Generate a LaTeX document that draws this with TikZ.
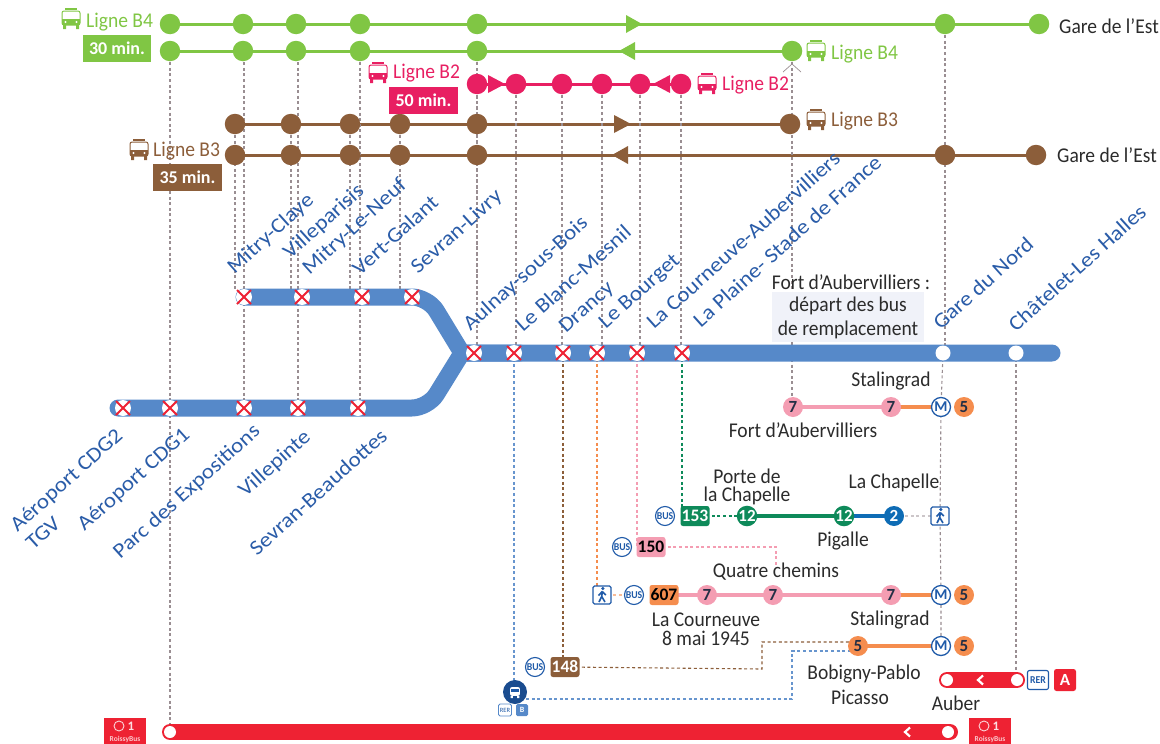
\documentclass[tikz,border=0pt]{standalone}
\usepackage{fontspec}
\setmainfont{Carlito}
\newfontfamily\narrowf[FakeStretch=0.93]{Carlito}
\newfontfamily\widef[FakeStretch=1.1]{Carlito}
\usetikzlibrary{backgrounds,calc,shapes.misc}
\definecolor{cgreen}{HTML}{80C644}
\definecolor{cpink}{HTML}{E81F62}
\definecolor{cbrown}{HTML}{8C5E3A}
\definecolor{cblue}{HTML}{5689C9}
\definecolor{clabel}{HTML}{2A5CA8}
\definecolor{cred}{HTML}{EE2233}
\definecolor{cdot}{HTML}{9A8E92}
\definecolor{cmpink}{HTML}{F49DB2}
\definecolor{cmorange}{HTML}{F58D4E}
\definecolor{cmgreen}{HTML}{0E8A5A}
\definecolor{cmblue}{HTML}{0E6CB5}
\definecolor{cdark}{HTML}{232F45}
\definecolor{cicon}{HTML}{1F5AA8}
\definecolor{cbox}{HTML}{F0F2F9}
\definecolor{ctext}{HTML}{2B2B2B}
\pgfdeclarelayer{under}\pgfdeclarelayer{mid}
\pgfsetlayers{under,mid,main}
\tikzset{
 stn/.style={circle,inner sep=0pt,minimum size=20.5pt,fill=#1},
 lin/.style={line width=3pt,draw=#1},
 dotl/.style={draw=#1,line width=1.1pt,dash pattern=on 3pt off 2.6pt},
 dotl/.default=cdot,
 bluel/.style={draw=cblue,line width=17pt,line cap=round,line join=round,rounded corners=16pt},
 xst/.style={circle,fill=white,inner sep=0pt,minimum size=16pt},
 wst/.style={circle,fill=white,inner sep=0pt,minimum size=15pt},
 lab/.style={text=clabel,rotate=42,font=\widef\fontsize{21}{22}\selectfont,inner sep=0pt},
 dlab/.style={text=ctext,font=\narrowf\fontsize{21}{22}\selectfont,inner sep=0pt,align=center},
 llab/.style={text=#1,font=\narrowf\fontsize{21}{22}\selectfont,inner sep=0pt,anchor=west},
 minb/.style={fill=#1,text=white,font=\bfseries\fontsize{18}{18}\selectfont,inner sep=0pt,minimum height=27pt},
 met/.style={circle,inner sep=0pt,minimum size=20pt,fill=cmpink,text=cdark,font=\bfseries\fontsize{17}{17}\selectfont},
 mett/.style={met,fill=#1,text=white},
 numb/.style={rounded corners=2.5pt,inner sep=0pt,minimum width=29pt,minimum height=20pt,fill=#1,font=\bfseries\fontsize{17.5}{17}\selectfont},
 busn/.style={circle,draw=cicon,line width=1.1pt,fill=white,inner sep=0pt,minimum size=19pt,text=cicon,font=\bfseries\narrowf\fontsize{10.5}{10}\selectfont},
 mn/.style={circle,draw=cicon,line width=1.3pt,fill=white,inner sep=0pt,minimum size=19pt,text=cicon,font=\bfseries\fontsize{15}{15}\selectfont},
 walkn/.style={rounded corners=1.5pt,draw=cicon,line width=1.1pt,fill=white,minimum size=18pt,inner sep=0pt},
 logon/.style={fill=cred,minimum width=42pt,minimum height=26pt,inner sep=0pt},
}
\newcommand{\xmark}[1]{\draw[cred,line width=1.8pt] ($(#1)+(-7,-7)$)--($(#1)+(7,7)$) ($(#1)+(-7,7)$)--($(#1)+(7,-7)$);}
\newcommand{\busicon}[3]{\begin{scope}[shift={(#2,#3)}]
 \draw[#1,line width=1pt,rounded corners=2pt] (-9,-8)--(-9,6)--(9,6)--(9,-8)--cycle;
 \draw[#1,line width=1.1pt] (-6,-10)--(6,-10);
 \fill[#1] (-9,0) rectangle (9,6);
 \fill[white] (-5.5,3) circle (1.2) (5.5,3) circle (1.2);
 \fill[#1] (-8,6) rectangle (-5,10) (5,6) rectangle (8,10);
\end{scope}}
\newcommand{\chev}[2]{\draw[white,line width=2.2pt] (#1+3,#2-4.5)--(#1-2,#2)--(#1+3,#2+4.5);}
\newcommand{\walk}[2]{\begin{scope}[shift={(#1,#2)}]
 \fill[cicon] (0.8,-6.5) circle (1.8);
 \draw[cicon,line width=1.6pt] (0.3,-3.5)--(-0.3,1.5)--(-3,7) (-0.3,1.5)--(3,7) (0.3,-3.5)--(-3.5,0.5) (0.3,-3.5)--(3.8,0);
\end{scope}}
\newcommand{\logo}[2]{\node[logon] at (#1,#2) {};
 \draw[white,line width=.9pt,opacity=.8] (#1-6,#2-5) circle (5);
 \node[text=white,opacity=.85,font=\bfseries\fontsize{13}{13}\selectfont,inner sep=0pt] at (#1+6,#2-5) {1};
 \node[text=white,opacity=.75,font=\bfseries\fontsize{7.5}{8}\selectfont,inner sep=0pt] at (#1,#2+8) {RoissyBus};}
\begin{document}
\begin{tikzpicture}[x=1pt,y=-1pt]
\useasboundingbox (0,0) rectangle (1160,744);
% B4 stations
\foreach \n/\x in {1/170,2/243,3/296,4/360,5/477,6/945,7/1039} \node[stn=cgreen] (ga\n) at (\x,24) {};
\foreach \n/\x in {1/170,2/243,3/296,4/360,5/477,6/792} \node[stn=cgreen] (gb\n) at (\x,51) {};
% B2
\foreach \n/\x in {1/477,2/516,3/562,4/602,5/640,6/681} \node[stn=cpink] (p\n) at (\x,84) {};
% B3
\foreach \n/\x in {1/235,2/291,3/350,4/400,5/477,6/790} \node[stn=cbrown] (ba\n) at (\x,124) {};
\foreach \n/\x in {1/235,2/291,3/350,4/400,5/477,6/945,7/1036} \node[stn=cbrown] (bb\n) at (\x,155) {};
% RER stations
\foreach \n/\x in {1/123,2/170,3/244,4/298,5/358} {\node[xst] (xb\n) at (\x,408) {};\xmark{xb\n}}
\foreach \n/\x in {2/302,3/362,4/412} {\node[xst] (xt\n) at (\x,297) {};\xmark{xt\n}}
\node[xst] (xt1) at (244,297) {}; \xmark{xt1}
\foreach \n/\x in {1/474,2/514,3/563,4/597,5/637,6/682} {\node[xst] (xm\n) at (\x,353) {};\xmark{xm\n}}
\node[wst] (gdn) at (943,353) {};
\node[wst] (chl) at (1016,353) {};
\coordinate (bs) at (118,408);
\coordinate (bse) at (1052,353);
\coordinate (bj) at (462,353);
\begin{pgfonlayer}{mid}
 \draw[bluel] (xt1.center)--(428,297)[sharp corners]--(bj)--(bse);
 \draw[bluel] (bs)--(428,408)[sharp corners]--(bj)--(520,353);
\end{pgfonlayer}
% Box for replacement text
\node[fill=cbox,minimum width=152pt,minimum height=50pt,inner sep=0pt] (fbox) at (848,317) {};
\node[dlab] (ft1) at (851,282) {Fort d’Aubervilliers :};
\node[dlab] (ft2) at (848,306) {départ des bus};
\node[dlab] (ft3) at (848,330) {de remplacement};
% Metro rows
\node[met] (r1a) at (793,407) {7};
\node[met] (r1b) at (891,407) {7};
\node[mn] (r1m) at (941,407) {M};
\node[met,fill=cmorange] (r1c) at (964,407) {5};
\node[busn] (r2bus) at (665,516) {BUS};
\node[numb=cmgreen,text=white] (r2n) at (695,516) {153};
\node[mett=cmgreen] (r2a) at (747,516) {12};
\node[mett=cmgreen] (r2b) at (844,516) {12};
\node[mett=cmblue] (r2c) at (894,516) {2};
\node[walkn] (r2w) at (940,516) {}; \walk{940}{516}
\node[busn] (r3bus) at (622,547) {BUS};
\node[numb=cmpink,text=black] (r3n) at (651,547) {150};
\coordinate (r3e) at (776,566);
\node[walkn] (r4w) at (602,595) {}; \walk{602}{595}
\node[busn] (r4bus) at (634,595) {BUS};
\node[numb=cmorange,text=black] (r4n) at (664,595) {607};
\node[met] (r4a) at (707,595) {7};
\node[met] (r4b) at (773,595) {7};
\node[met] (r4c) at (891,595) {7};
\node[mn] (r4m) at (941,595) {M};
\node[met,fill=cmorange] (r4d) at (964,595) {5};
\node[met,fill=cmorange] (r5a) at (858,646) {5};
\node[mn] (r5m) at (941,646) {M};
\node[met,fill=cmorange] (r5b) at (964,646) {5};
\node[busn] (r6bus) at (535,667) {BUS};
\node[numb=cbrown,text=white] (r6n) at (565,667) {148};
\coordinate (r5br) at (858,642);
\coordinate (r5bl) at (858,651);
% RER B
\node[circle,fill=cicon!85!black,minimum size=24pt,inner sep=0pt] (rb) at (515,692) {};
\begin{scope}[shift={(515,692)},scale=.55]\fill[white,rounded corners=2pt] (-9,-9) rectangle (9,7);\fill[cicon] (-6.5,-5.5) rectangle (6.5,0);\fill[white] (-8,7) rectangle (-4,11) (4,7) rectangle (8,11);\end{scope}
\node[draw=cblue,fill=white,rounded corners=1.5pt,line width=.8pt,minimum width=13pt,minimum height=12pt,inner sep=0pt,text=cicon,font=\fontsize{6.5}{7}\selectfont] (rbr) at (505,710) {RER};
\node[fill=cblue,rounded corners=1.5pt,minimum width=12pt,minimum height=12pt,inner sep=0pt,text=white,font=\bfseries\fontsize{8}{8}\selectfont] (rbb) at (522,710) {B};
% RER A
\coordinate (ras) at (947,680);
\coordinate (rae) at (1017,680);
\draw[cred,line width=16pt,line cap=round] (ras)--(rae);
\node[circle,fill=white,inner sep=0pt,minimum size=12pt] (ra1) at (947,680) {};
\node[circle,fill=white,inner sep=0pt,minimum size=12pt] (ra2) at (1017,680) {};
\chev{980}{680}
\node[draw=cicon,fill=white,rounded corners=2pt,line width=1.1pt,minimum width=21pt,minimum height=19pt,inner sep=0pt,text=cicon,font=\bfseries\narrowf\fontsize{10.5}{10}\selectfont] (rar) at (1038,680) {RER};
\node[fill=cred,rounded corners=2.5pt,minimum width=22pt,minimum height=22pt,inner sep=0pt,text=white,font=\bfseries\fontsize{17}{17}\selectfont] (raa) at (1065,680) {A};
% Bottom line
\coordinate (bbs) at (170,732);
\coordinate (bbe) at (950,732);
\draw[cred,line width=16pt,line cap=round] (bbs)--(bbe);
\node[circle,fill=white,inner sep=0pt,minimum size=12pt] (bb1s) at (170,732) {};
\node[circle,fill=white,inner sep=0pt,minimum size=12pt] (bb2s) at (948,732) {};
\chev{907}{732}
\logo{125}{731}\logo{990}{731}
% connectors, under everything
\begin{pgfonlayer}{under}
 \draw[lin=cgreen] (ga1.center)--(ga7.center);
 \draw[lin=cgreen] (gb1.center)--(gb6.center);
 \draw[lin=cpink] (p1.center)--(p6.center);
 \draw[lin=cbrown] (ba1.center)--(ba6.center);
 \draw[lin=cbrown] (bb1.center)--(bb7.center);
 \foreach \a/\b in {gb4/xb5,p1/xm1,p2/xm2,p3/xm3,p4/xm4,p5/xm5,p6/xm6}
   \draw[dotl] (\a.center)--(\a.center |- \b.center);
 \draw[dotl] (gb1.center)--(bb1s.center);
 \draw[dotl] (xb3.center |- gb2.center)--(xb3.center);
 \draw[dotl] (xb4.center |- gb3.center)--(xb4.center);
 \foreach \n in {1,2,3,4} \draw[dotl] (ba\n.center)--(bb\n.center)--++(0,134);
 \draw[dotl] (ba5.center)--(bb5.center)--++(0,145);
 \draw[dotl] (gb5.center)--(ba5.center);
 \draw[dotl] (gb6.center)--(gb6.center |- r1a.center);
 \draw[dotl] (ga6.center)--(bb6.center)--++(0,190);
 \draw[dotl] (gdn.center)--(r1m.center)--(r2w.center)--(r4m.center)--(r5m.center);
 \draw[dotl] (chl.center)--(chl.center |- ra2.center);
 \draw[dotl=cblue!90] (xm2.center)--(xm2.center |- rb.center);
 \draw[dotl=cblue!90] (rb.center)++(0,7)--(792,699)--(792,651)--(r5bl);
 \draw[dotl=cbrown] (xm3.center)--(xm3.center |- r6n.center);
 \draw[dotl=cbrown] (r6n.center)--(762,669)--(762,642)--(r5br);
 \draw[dotl=cmorange] (xm4.center)--(xm4.center |- r4w.center);
 \draw[dotl=cmorange!60] (r4w.center)--(r4bus.center);
 \draw[dotl=cmpink] (xm5.center)--(xm5.center |- r3n.center);
 \draw[dotl=cmpink] (r3n.center)-|(r3e);
 \draw[dotl=cmgreen] (xm6.center)--(xm6.center |- r2n.center);
 \draw[dotl=cmgreen] (r2n.center)--(r2a.center);
 \draw[dotl=cdot!50] (r2c.center)--(r2w.center);
 \draw[line width=3.5pt,cmpink] (r1a.center)--(r1b.center);
 \draw[line width=3.5pt,cmorange] (r1b.center)--(r1m.center);
 \draw[line width=4pt,cmgreen] (r2a.center)--(r2b.center);
 \draw[line width=4pt,cmblue] (r2b.center)--(r2c.center);
 \draw[line width=3.5pt,cmpink] (r4n.center)--(r4c.center);
 \draw[line width=3.5pt,cmorange] (r4c.center)--(r4m.center);
 \draw[line width=3.5pt,cmorange] (r5a.center)--(r5m.center);
\end{pgfonlayer}
\draw[cdot,line width=.7pt] (783,72)--(792,64)--(801,72);
% arrowheads
\fill[cgreen] (626,15)--(642,24)--(626,33)--cycle;
\fill[cgreen] (635,42)--(619,51)--(635,60)--cycle;
\fill[cpink] (488,75)--(505,84)--(488,93)--cycle;
\fill[cpink] (670,75)--(653,84)--(670,93)--cycle;
\fill[cbrown] (614,115)--(631,124)--(614,133)--cycle;
\fill[cbrown] (628,146)--(612,155)--(628,164)--cycle;
% ligne labels
\busicon{cgreen}{71}{19}\node[llab=cgreen] (lb4) at (86,22) {Ligne B4};
\node[minb=cgreen,minimum width=68pt] (m30) at (117,48) {30 min.};
\busicon{cgreen}{816}{51}\node[llab=cgreen] (lb4r) at (831,54) {Ligne B4};
\busicon{cpink}{378}{73}\node[llab=cpink] (lb2) at (393,73) {Ligne B2};
\node[minb=cpink,minimum width=69pt] (m50) at (423.5,100) {50 min.};
\busicon{cpink}{707}{84}\node[llab=cpink] (lb2r) at (722,85) {Ligne B2};
\busicon{cbrown}{816}{120}\node[llab=cbrown] (lb3r) at (831,121) {Ligne B3};
\busicon{cbrown}{139}{150}\node[llab=cbrown] (lb3) at (153,151) {Ligne B3};
\node[minb=cbrown,minimum width=69pt] (m35) at (187.5,177) {35 min.};
\node[dlab,anchor=west] (ge1) at (1059,26) {Gare de l’Est};
\node[dlab,anchor=west] (ge2) at (1057,155) {Gare de l’Est};
% rotated labels
\node[lab] (l1) at (271,234) {Mitry-Claye};
\node[lab] (l2) at (324,222) {Villeparisis};
\node[lab] (l3) at (355,227) {Mitry-Le-Neuf};
\node[lab] (l4) at (395,235) {Vert-Galant};
\node[lab] (l5) at (457,232) {Sevran-Livry};
\node[lab] (l6) at (526,274) {Aulnay-sous-Bois};
\node[lab] (l7) at (573,278) {Le Blanc-Mesnil};
\node[lab] (l8) at (587,308) {Drancy};
\node[lab] (l9) at (640,292) {Le Bourget};
\node[lab] (l10) at (743,240) {La Courneuve-Aubervilliers};
\node[lab] (l11) at (787,241) {La Plaine- Stade de France};
\node[lab] (l12) at (983,283) {Gare du Nord};
\node[lab] (l13) at (1077,268) {Châtelet-Les Halles};
\node[lab] (l14) at (67,481) {Aéroport CDG2};
\node[lab] (l15) at (43,533) {TGV};
\node[lab] (l16) at (134,480) {Aéroport CDG1};
\node[lab] (l17) at (187,492) {Parc des Expositions};
\node[lab] (l18) at (275,464) {Villepinte};
\node[lab] (l19) at (318,492) {Sevran-Beaudottes};
% dark labels
\node[dlab] (d1) at (891,381) {Stalingrad};
\node[dlab] (d2) at (803,430) {Fort d’Aubervilliers};
\node[dlab] (d3) at (747,476) {Porte de};
\node[dlab] (d3b) at (747,496) {la Chapelle};
\node[dlab] (d4) at (894,483) {La Chapelle};
\node[dlab] (d5) at (843,541) {Pigalle};
\node[dlab] (d6) at (776,572) {Quatre chemins};
\node[dlab] (d7) at (706,620) {La Courneuve};
\node[dlab] (d7b) at (706,638) {8 mai 1945};
\node[dlab] (d8) at (890,620) {Stalingrad};
\node[dlab] (d9) at (864,674) {Bobigny-Pablo};
\node[dlab] (d9b) at (860,697) {Picasso};
\node[dlab] (d10) at (956,703) {Auber};
\end{tikzpicture}
\end{document}
